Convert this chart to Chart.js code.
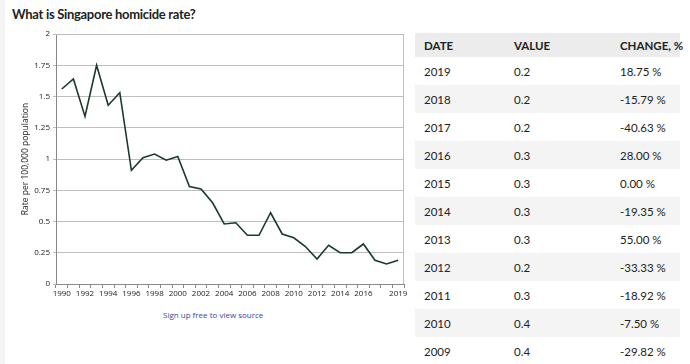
<!DOCTYPE html>
<html>
<head>
<meta charset="utf-8">
<script src="https://cdn.jsdelivr.net/npm/chart.js@4.4.1/dist/chart.umd.min.js"></script>
<style>
  html, body { margin: 0; padding: 0; background: #fff; }
  body { width: 690px; height: 364px; position: relative; overflow: hidden; font-family: "Lato", sans-serif; }
  .edge { position: absolute; left: 0; top: 0; width: 5px; height: 364px; background: #f4f4f4; }
  h1 { position: absolute; left: 12px; top: 6px; margin: 0; font-size: 13px; letter-spacing: -0.3px; font-weight: bold; color: #222; }
  #wrap { position: absolute; left: 0; top: 0; width: 412px; height: 300px; }
  .src { position: absolute; left: 163px; top: 309px; font-family: "Open Sans", sans-serif; font-size: 8px; color: #34489a; }
  table { position: absolute; left: 415px; top: 33px; width: 265px; table-layout: fixed; border-collapse: collapse; font-size: 11.5px; color: #222; }
  th, td { text-align: left; padding: 0 0 0 9px; height: 28px; white-space: nowrap; overflow: visible; }
  th { height: 24px; background: #ececec; font-weight: bold; }
  tr:nth-child(even) td { background: #f4f4f4; }
</style>
</head>
<body>
<div class="edge"></div>
<h1>What is Singapore homicide rate?</h1>
<div id="wrap"><canvas id="myChart"></canvas></div>
<div class="src">Sign up free to view source</div>
<table id="tbl">
  <colgroup><col style="width:90px"><col style="width:106px"><col style="width:69px"></colgroup>
  <thead><tr><th>DATE</th><th>VALUE</th><th>CHANGE, %</th></tr></thead>
  <tbody></tbody>
</table>
<script>
// Chart data
const years = ['1990','1991','1992','1993','1994','1995','1996','1997','1998','1999',
  '2000','2001','2002','2003','2004','2005','2006','2007','2008','2009',
  '2010','2011','2012','2013','2014','2015','2016','2017','2018','2019'];
const rates = [1.56, 1.64, 1.34, 1.75, 1.43, 1.53, 0.91, 1.01, 1.04, 0.99,
  1.02, 0.78, 0.76, 0.65, 0.48, 0.49, 0.39, 0.39, 0.57, 0.40,
  0.37, 0.30, 0.20, 0.31, 0.25, 0.25, 0.32, 0.19, 0.16, 0.19];
const shownYears = ['1990','1992','1994','1996','1998','2000','2002','2004','2006','2008','2010','2012','2014','2016','2019'];

// Table data
const tableDates = ['2019','2018','2017','2016','2015','2014','2013','2012','2011','2010','2009'];
const tableValues = ['0.2','0.2','0.2','0.3','0.3','0.3','0.3','0.2','0.3','0.4','0.4'];
const tableChanges = ['18.75 %','-15.79 %','-40.63 %','28.00 %','0.00 %','-19.35 %','55.00 %','-33.33 %','-18.92 %','-7.50 %','-29.82 %'];

const tbody = document.querySelector('#tbl tbody');
tableDates.forEach((d, i) => {
    const tr = document.createElement('tr');
    tr.innerHTML = '<td>' + d + '</td><td>' + tableValues[i] + '</td><td>' + tableChanges[i] + '</td>';
    tbody.appendChild(tr);
});

// draws the box round the plot area
const boxPlugin = {
    id: 'box',
    afterDraw(chart) {
        const a = chart.chartArea;
        const c = chart.ctx;
        c.save();
        c.strokeStyle = '#bdbdbd';
        c.lineWidth = 1;
        c.beginPath();
        c.moveTo(a.left, a.top + 0.5);
        c.lineTo(a.right - 0.5, a.top + 0.5);
        c.lineTo(a.right - 0.5, a.bottom);
        c.stroke();
        c.restore();
    }
};

const tickFont = { family: 'Open Sans', size: 8 };

const ctx = document.getElementById('myChart').getContext('2d');
const myChart = new Chart(ctx, {
    type: 'line',
    data: {
        labels: years,
        datasets: [{
            data: rates,
            borderColor: '#1a3a2a',
            borderWidth: 1.6,
            pointRadius: 0,
            tension: 0,
            fill: false
        }]
    },
    options: {
        responsive: true,
        maintainAspectRatio: false,
        animation: false,
        layout: { padding: { top: 34, right: 8, left: 0, bottom: 0 } },
        plugins: { legend: { display: false }, tooltip: { enabled: false } },
        scales: {
            x: {
                offset: true,
                grid: { offset: true, drawOnChartArea: false, tickLength: 4, color: '#888' },
                border: { color: '#888' },
                ticks: {
                    autoSkip: false,
                    maxRotation: 0,
                    padding: 1,
                    color: '#222',
                    font: tickFont,
                    callback: function (v) {
                        const y = this.getLabelForValue(v);
                        return shownYears.includes(y) ? y : '';
                    }
                },
                afterFit: s => { s.height = 16; }
            },
            y: {
                min: 0,
                max: 2,
                grid: { color: '#bdbdbd', tickLength: 3 },
                border: { color: '#888' },
                ticks: {
                    stepSize: 0.25,
                    padding: 3,
                    color: '#222',
                    font: tickFont,
                    callback: v => String(v)
                },
                title: {
                    display: true,
                    text: 'Rate per 100,000 population',
                    color: '#222',
                    font: { family: 'Open Sans', size: 8.5 },
                    padding: { top: 20, bottom: 0 }
                },
                afterFit: s => { s.width = 56; }
            }
        }
    },
    plugins: [boxPlugin]
});
</script>
</body>
</html>
